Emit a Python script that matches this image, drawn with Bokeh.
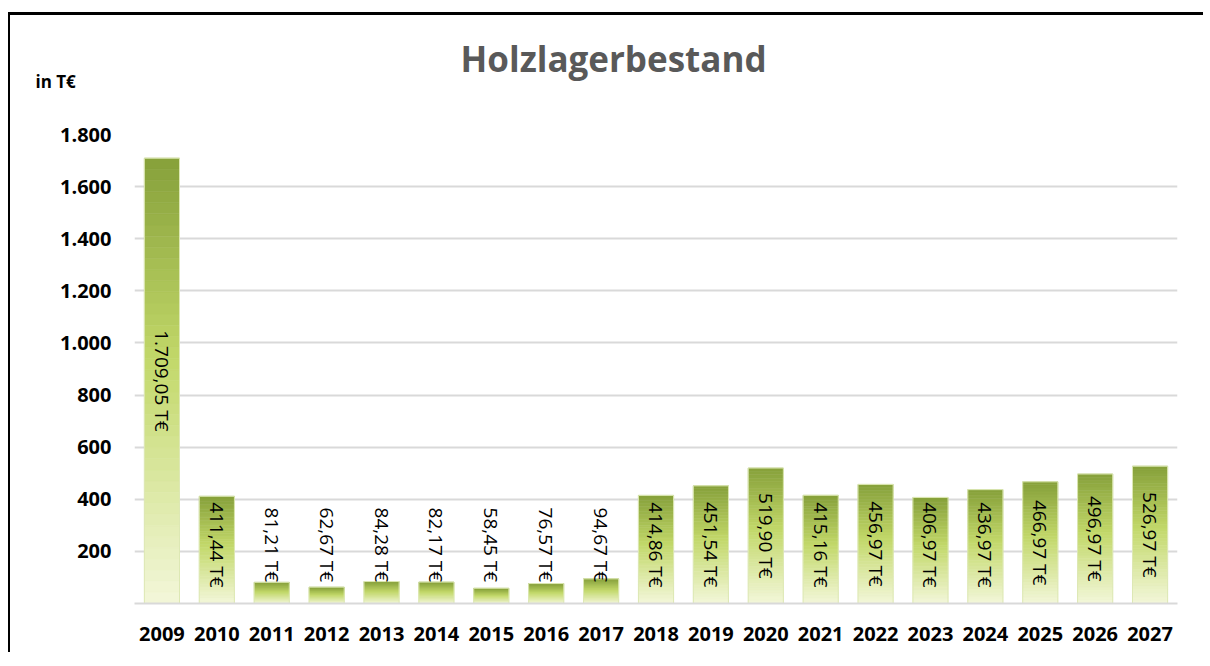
import numpy as np
from bokeh.plotting import figure
from bokeh.models import Range1d, FactorRange, FixedTicker, Title, ColumnDataSource
from bokeh.core.properties import value
from bokeh.embed import file_html
from bokeh.resources import INLINE

# ---- data ----
years = ["2009", "2010", "2011", "2012", "2013", "2014", "2015", "2016", "2017", "2018",
         "2019", "2020", "2021", "2022", "2023", "2024", "2025", "2026", "2027"]
values = [1709.05, 411.44, 81.21, 62.67, 84.28, 82.17, 58.45, 76.57, 94.67, 414.86,
          451.54, 519.90, 415.16, 456.97, 406.97, 436.97, 466.97, 496.97, 526.97]
value_labels = ["1.709,05 T€", "411,44 T€", "81,21 T€", "62,67 T€", "84,28 T€", "82,17 T€",
                "58,45 T€", "76,57 T€", "94,67 T€", "414,86 T€", "451,54 T€", "519,90 T€",
                "415,16 T€", "456,97 T€", "406,97 T€", "436,97 T€", "466,97 T€", "496,97 T€",
                "526,97 T€"]
y_ticks = [200, 400, 600, 800, 1000, 1200, 1400, 1600, 1800]
y_tick_labels = ["200", "400", "600", "800", "1.000", "1.200", "1.400", "1.600", "1.800"]
title_text = "Holzlagerbestand"
unit_text = "in T€"

FONT = "Open Sans"

p = figure(x_range=FactorRange(*years, range_padding=0), y_range=Range1d(0, 1800),
           width=1195, height=640, output_backend="svg", toolbar_location=None,
           min_border_left=124, min_border_right=28, min_border_top=119, min_border_bottom=52)
p.styles = {"border-top": "3px solid black", "border-left": "2px solid black",
            "margin-top": "12px", "margin-left": "8px"}
p.outline_line_color = None
p.background_fill_color = "white"
p.border_fill_color = "white"

# gradient bars: stacked slices of each bar, colour by relative height within the bar
stops_t = [0.0, 0.45, 1.0]  # 0 = top, 1 = bottom
stops_c = [(0x86, 0xa0, 0x3a), (0xc2, 0xd8, 0x69), (0xf3, 0xf7, 0xda)]
N = 40
xs, bots, tops, cols = [], [], [], []
for yr, v in zip(years, values):
    for k in range(N):
        f0 = k / N
        f1 = (k + 1) / N
        t = 1 - (f0 + f1) / 2
        rgb = [int(round(np.interp(t, stops_t, [c[i] for c in stops_c]))) for i in range(3)]
        xs.append(yr)
        bots.append(v * f0)
        tops.append(v * f1)
        cols.append("#%02x%02x%02x" % tuple(rgb))
src = ColumnDataSource(dict(x=xs, bottom=bots, top=tops, color=cols))
p.vbar(x="x", bottom="bottom", top="top", width=0.64, source=src,
       fill_color="color", line_color="color", line_width=0.6)
p.vbar(x=years, top=values, width=0.64, fill_color=None, line_color="#dde8b4", line_width=1)

# data labels (rotated)
label_y = [max(v / 2, 225) for v in values]
p.text(x=years, y=label_y, text=value_labels, angle=-np.pi / 2,
       text_align="center", text_baseline="middle",
       text_font=value(FONT), text_font_size="19px", text_color="black")

# axes
p.xaxis.axis_line_color = "#d9d9d9"
p.xaxis.axis_line_width = 2
p.xaxis.major_tick_line_color = None
p.xaxis.minor_tick_line_color = None
p.xaxis.major_label_text_font = FONT
p.xaxis.major_label_text_font_style = "bold"
p.xaxis.major_label_text_font_size = "20px"
p.xaxis.major_label_text_color = "black"
p.xaxis.major_label_standoff = 17

p.yaxis.ticker = FixedTicker(ticks=y_ticks)
p.yaxis.major_label_overrides = {t: l for t, l in zip(y_ticks, y_tick_labels)}
p.yaxis.axis_line_color = None
p.yaxis.major_tick_line_color = None
p.yaxis.minor_tick_line_color = None
p.yaxis.major_label_text_font = FONT
p.yaxis.major_label_text_font_style = "bold"
p.yaxis.major_label_text_font_size = "20px"
p.yaxis.major_label_text_color = "black"
p.yaxis.major_label_standoff = 17

p.xgrid.grid_line_color = None
p.ygrid.ticker = FixedTicker(ticks=y_ticks)
p.ygrid.grid_line_color = "#d9d9d9"
p.ygrid.grid_line_width = 2

HAS_STANDOFF = "standoff" in Title.properties()

# title stack above the frame (first added = closest to frame)
spacer = Title(text=" ", text_font=FONT, text_font_size="14px")
unit = Title(text=unit_text, align="left", offset=-99, text_font=FONT,
             text_font_style="bold", text_font_size="17px", text_color="black")
if HAS_STANDOFF:
    spacer.standoff = 35
    unit.standoff = -29
p.add_layout(spacer, "above")
p.add_layout(unit, "above")
p.title.text = title_text
p.title.align = "left"
p.title.offset = 326
p.title.text_font = FONT
p.title.text_font_style = "bold"
p.title.text_font_size = "35px"
p.title.text_color = "#595959"
if HAS_STANDOFF:
    p.title.standoff = -6

open("out.html", "w").write(file_html(p, INLINE))
